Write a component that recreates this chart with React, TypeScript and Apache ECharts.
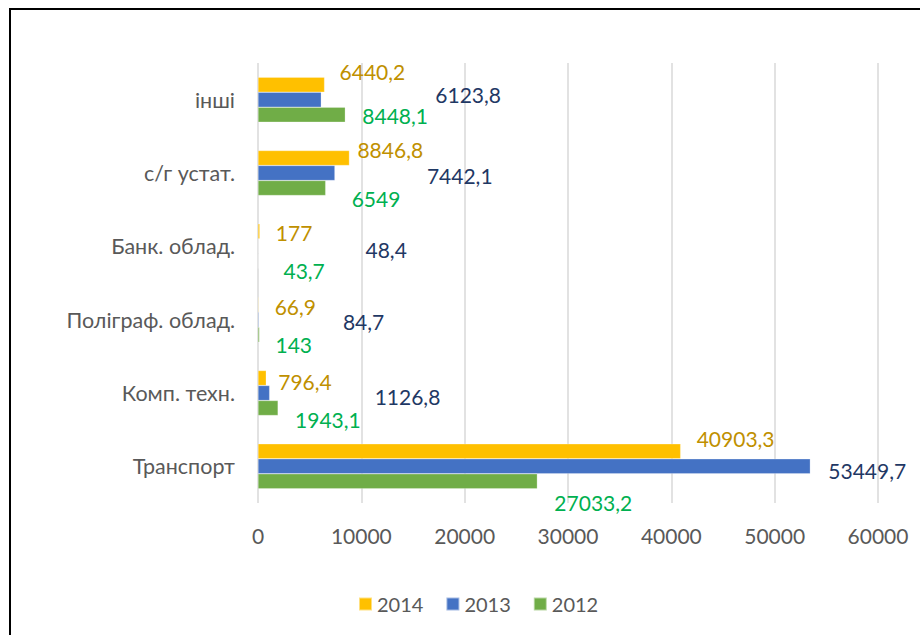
import React, { useEffect, useRef } from "react";
import * as echarts from "echarts";

const categories = ["Транспорт", "Комп. техн.", "Поліграф. облад.", "Банк. облад.", "с/г устат.", "інші"];
const values2014 = [40903.3, 796.4, 66.9, 177, 8846.8, 6440.2];
const values2013 = [53449.7, 1126.8, 84.7, 48.4, 7442.1, 6123.8];
const values2012 = [27033.2, 1943.1, 143, 43.7, 6549, 8448.1];
const seriesNames = ["2014", "2013", "2012"];

// label nudges (dx, dy) reproducing hand-placed data labels
const shift2014 = [[11, -13], [7, 3], [11, 2], [11, 1], [3, -9], [10, -13]];
const shift2013 = [[13, 4], [100, 3], [79, 2], [102, 3], [87, 2], [109, -5]];
const shift2012 = [[12, 21], [12, 11], [11, 10], [20, 9], [21, 10], [12, 1]];

const FONT = "Lato";

function fmt(v: number) {
  return String(v).replace(".", ",");
}

function makeSeries(name: string, vals: number[], shifts: number[][], color: string, labelColor: string) {
  return {
    name,
    type: "bar",
    barWidth: 15,
    barGap: "0%",
    itemStyle: { color, borderColor: "rgba(255,255,255,0.5)", borderWidth: 0.5 },
    data: vals.map((v, i) => ({
      value: v,
      label: { offset: shifts[i] },
    })),
    label: {
      show: true,
      position: "right",
      distance: 5,
      color: labelColor,
      fontFamily: FONT,
      fontSize: 21,
      formatter: (p: any) => fmt(p.value),
    },
  };
}

export default function App() {
  const ref = useRef<HTMLDivElement>(null);
  useEffect(() => {
    if (!ref.current) return;
    const chart = echarts.init(ref.current, undefined, { renderer: "svg" });
    chart.setOption({
      animation: false,
      backgroundColor: "#ffffff",
      graphic: [
        {
          type: "rect",
          shape: { x: 10, y: 9, width: 1000, height: 1000 },
          style: { fill: "none", stroke: "#000000", lineWidth: 2 },
          silent: true,
        },
      ],
      grid: { left: 258, right: 42, top: 63, bottom: 132 },
      legend: {
        data: seriesNames,
        left: 353,
        top: 589,
        itemWidth: 13,
        itemHeight: 13,
        itemGap: 22,
        icon: "rect",
        textStyle: { color: "#595959", fontFamily: FONT, fontSize: 20 },
      },
      xAxis: {
        type: "value",
        min: 0,
        max: 60000,
        interval: 10000,
        axisLine: { show: false },
        axisTick: { show: false },
        splitLine: { show: true, lineStyle: { color: "#D9D9D9", width: 1.5 } },
        axisLabel: {
          color: "#595959",
          fontFamily: FONT,
          fontSize: 21,
          margin: 22,
          formatter: (v: number) => String(v),
        },
      },
      yAxis: {
        type: "category",
        data: categories,
        axisLine: { show: false },
        axisTick: { show: false },
        axisLabel: { color: "#595959", fontFamily: FONT, fontSize: 21.5, margin: 23 },
      },
      series: [
        makeSeries("2014", values2014, shift2014, "#FFC000", "#BF9000"),
        makeSeries("2013", values2013, shift2013, "#4472C4", "#1F3864"),
        makeSeries("2012", values2012, shift2012, "#70AD47", "#00B050"),
      ],
    });
    return () => chart.dispose();
  }, []);
  return (
    <div style={{ position: "fixed", left: 0, top: 0, width: 920, height: 635, overflow: "hidden", background: "#fff" }}>
      <div ref={ref} style={{ width: 920, height: 635 }} />
    </div>
  );
}
